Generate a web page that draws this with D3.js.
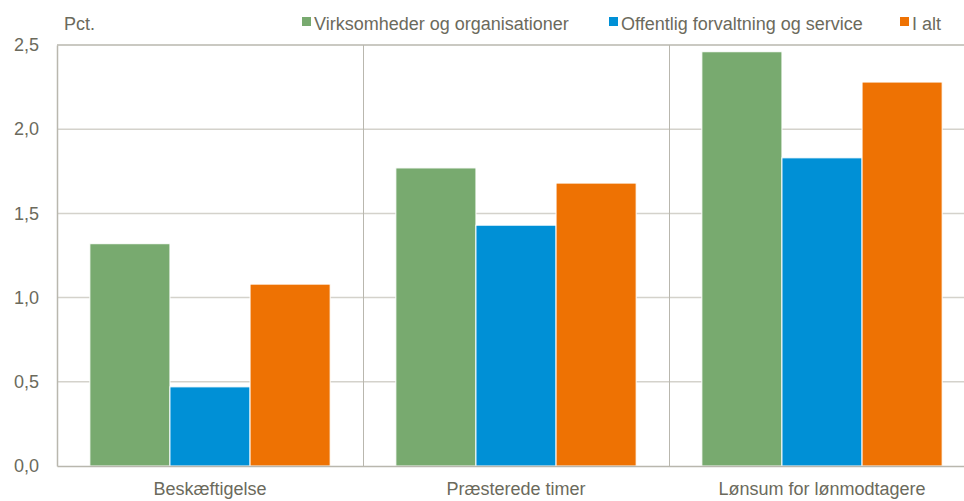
<!DOCTYPE html>
<html>
<head>
<meta charset="utf-8">
<script src="https://cdn.jsdelivr.net/npm/d3@7"></script>
<style>
  body { margin: 0; background: #fff; }
  svg text { font-family: "Liberation Sans", Arial, sans-serif; fill: #6b6a5c; }
</style>
</head>
<body>
<div id="viz"></div>
<script>
// data
const categories = ["Beskæftigelse", "Præsterede timer", "Lønsum for lønmodtagere"];
const seriesNames = ["Virksomheder og organisationer", "Offentlig forvaltning og service", "I alt"];
const virksomheder = [1.32, 1.77, 2.46];
const offentlig = [0.47, 1.43, 1.83];
const iAlt = [1.08, 1.68, 2.28];
const yTicks = [0, 0.5, 1.0, 1.5, 2.0, 2.5];
const colors = ["#78aa6f", "#0090d6", "#ee7203"];

const seriesValues = [virksomheder, offentlig, iAlt];

const width = 964, height = 501;
const margin = {top: 45, right: -11, bottom: 35, left: 57};

const svg = d3.select("#viz").append("svg")
  .attr("width", width)
  .attr("height", height);

const x0 = d3.scaleBand()
  .domain(categories)
  .range([margin.left, width - margin.right])
  .paddingInner(0)
  .paddingOuter(0);

const x1 = d3.scaleBand()
  .domain(seriesNames)
  .range([0, x0.bandwidth()])
  .paddingOuter(0.41)
  .paddingInner(0);

const y = d3.scaleLinear()
  .domain([0, 2.5])
  .range([height - margin.bottom, margin.top]);

const fmt = d => d3.format(".1f")(d).replace(".", ",");

// horizontal gridlines
svg.append("g").selectAll("line")
  .data(yTicks.filter(d => d > 0 && d < 2.5))
  .join("line")
    .attr("x1", margin.left)
    .attr("x2", width)
    .attr("y1", d => y(d))
    .attr("y2", d => y(d))
    .attr("stroke", "#d4d2cb")
    .attr("stroke-width", 1.5);

// vertical separators between categories
svg.append("g").selectAll("line")
  .data(categories.slice(1))
  .join("line")
    .attr("x1", d => Math.round(x0(d)) + 0.5)
    .attr("x2", d => Math.round(x0(d)) + 0.5)
    .attr("y1", y(2.5))
    .attr("y2", y(0))
    .attr("stroke", "#b9b7ae")
    .attr("stroke-width", 1);

// bars
const groups = svg.append("g").selectAll("g")
  .data(categories)
  .join("g")
    .attr("transform", d => "translate(" + x0(d) + ",0)");

groups.selectAll("rect")
  .data((c, i) => seriesNames.map((s, j) => ({s: s, v: seriesValues[j][i], j: j})))
  .join("rect")
    .attr("x", d => x1(d.s))
    .attr("width", x1.bandwidth())
    .attr("y", d => y(d.v))
    .attr("height", d => y(0) - y(d.v))
    .attr("fill", d => colors[d.j])
    .attr("stroke", "#fff")
    .attr("stroke-width", 1);

// top frame line
svg.append("line")
  .attr("x1", margin.left).attr("x2", width)
  .attr("y1", y(2.5)).attr("y2", y(2.5))
  .attr("stroke", "#b9b7ae").attr("stroke-width", 1.5);

// y axis
const yAxis = svg.append("g")
  .attr("transform", "translate(" + margin.left + ",0)")
  .call(d3.axisLeft(y).tickValues(yTicks).tickFormat(fmt).tickSize(0).tickPadding(18));
yAxis.select(".domain").attr("stroke", "#b9b7ae").attr("stroke-width", 1.5);
yAxis.selectAll("text").attr("font-size", 18).style("fill", "#6b6a5c");

// x axis
const xAxis = svg.append("g")
  .attr("transform", "translate(0," + y(0) + ")")
  .call(d3.axisBottom(x0).tickSize(0).tickPadding(16));
xAxis.select(".domain").attr("stroke", "#b9b7ae").attr("stroke-width", 1.5);
xAxis.selectAll("text").attr("font-size", 18).style("fill", "#6b6a5c");

// unit label
svg.append("text")
  .attr("x", 64).attr("y", 30)
  .attr("font-size", 18)
  .text("Pct.");

// legend
const legendX = [302, 609, 900];
const legend = svg.append("g").selectAll("g")
  .data(seriesNames)
  .join("g")
    .attr("transform", (d, i) => "translate(" + legendX[i] + ",0)");
legend.append("rect")
  .attr("x", 0).attr("y", 17)
  .attr("width", 9).attr("height", 9)
  .attr("fill", (d, i) => colors[i]);
legend.append("text")
  .attr("x", 12).attr("y", 30)
  .attr("font-size", 18)
  .text(d => d);
</script>
</body>
</html>
